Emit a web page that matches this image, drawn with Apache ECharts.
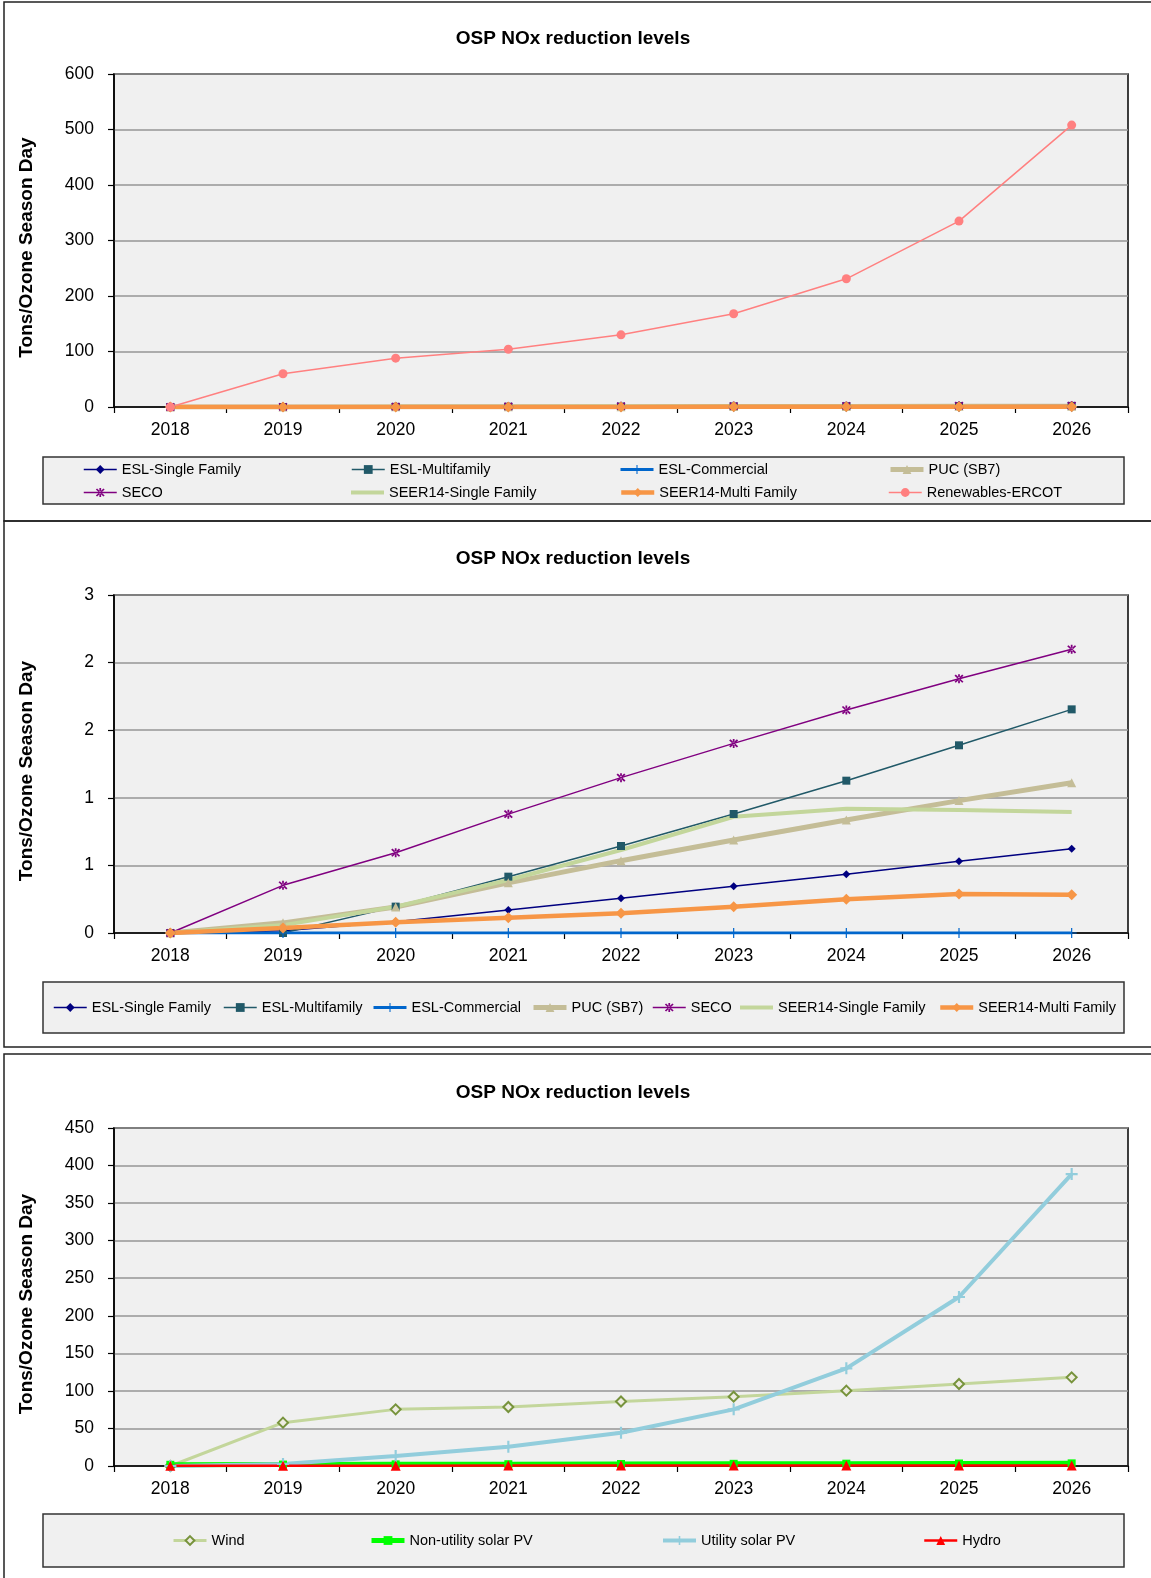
<!DOCTYPE html>
<html><head><meta charset="utf-8">
<script src="https://cdn.jsdelivr.net/npm/echarts@6/dist/echarts.min.js"></script>
<style>html,body{margin:0;padding:0;background:#fff}#c{width:1151px;height:1578px}</style>
</head><body><div id="c"></div>
<script>
// ---------------- data ----------------
const years = ['2018','2019','2020','2021','2022','2023','2024','2025','2026'];
const eslSingleFamily    = [0, 0.02, 0.10, 0.205, 0.308, 0.414, 0.521, 0.636, 0.748];
const eslMultifamily     = [0, 0.0, 0.234, 0.50, 0.772, 1.056, 1.352, 1.666, 1.985];
const eslCommercial      = [0, 0, 0, 0, 0, 0, 0, 0, 0];
const pucSB7             = [0, 0.09, 0.23, 0.445, 0.642, 0.825, 1.003, 1.175, 1.334];
const seco               = [0, 0.423, 0.713, 1.055, 1.379, 1.683, 1.979, 2.257, 2.518];
const seer14SingleFamily = [0, 0.07, 0.234, 0.47, 0.737, 1.032, 1.103, 1.092, 1.074];
const seer14MultiFamily  = [0, 0.044, 0.095, 0.135, 0.175, 0.234, 0.299, 0.346, 0.340];
const renewablesErcot    = [0, 60, 88, 104, 130, 168, 231, 335, 508];
const wind               = [0, 57.7, 75.4, 78.6, 85.9, 92.3, 100.3, 109.2, 118];
const nonUtilitySolarPV  = [1.6, 1.9, 2.2, 2.4, 2.7, 2.9, 3.1, 3.3, 3.5];
const utilitySolarPV     = [0, 2.8, 13.3, 25.7, 44.3, 75.4, 130, 225, 388.6];
const hydro              = [0.4, 0.4, 0.4, 0.5, 0.5, 0.5, 0.5, 0.5, 0.5];
const chartTitle = 'OSP NOx reduction levels';
const yAxisTitle = 'Tons/Ozone Season Day';
const panel2TickLabels = ['0', '1', '1', '2', '2', '3'];

// ---------------- styles ----------------
const FONT = '"Liberation Sans", Arial, sans-serif';
const PLUS_THIN = 'path://M-0.6,-5 L0.6,-5 L0.6,-0.6 L5,-0.6 L5,0.6 L0.6,0.6 L0.6,5 L-0.6,5 L-0.6,0.6 L-5,0.6 L-5,-0.6 L-0.6,-0.6 Z';
const PLUS_THICK = 'path://M-0.9,-5 L0.9,-5 L0.9,-0.9 L5,-0.9 L5,0.9 L0.9,0.9 L0.9,5 L-0.9,5 L-0.9,0.9 L-5,0.9 L-5,-0.9 L-0.9,-0.9 Z';
const ASTER = 'path://M-0.9,-5 L0.9,-5 L0.9,5 L-0.9,5 Z M-4.6,-3.3 L3.3,4.6 L4.6,3.3 L-3.3,-4.6 Z M-3.3,4.6 L4.6,-3.3 L3.3,-4.6 L-4.6,3.3 Z';
const STY = {
  'ESL-Single Family':    {color:'#000080', width:1.5, symbol:'diamond', size:8},
  'ESL-Multifamily':      {color:'#215968', width:1.5, symbol:'rect', size:8},
  'ESL-Commercial':       {color:'#0066CC', width:3, symbol:PLUS_THIN, size:10},
  'PUC (SB7)':            {color:'#C4BD97', width:5, symbol:'triangle', size:9},
  'SECO':                 {color:'#800080', width:1.5, symbol:ASTER, size:9},
  'SEER14-Single Family': {color:'#C3D69B', width:4, symbol:'none', size:0},
  'SEER14-Multi Family':  {color:'#F79646', width:4.5, symbol:'diamond', size:11},
  'Renewables-ERCOT':     {color:'#FF8080', width:1.5, symbol:'circle', size:9},
  'Wind':                 {color:'#C3D69B', width:3, symbol:'diamond', size:10, fill:'#EEECE1', border:'#77933C', bw:2},
  'Non-utility solar PV': {color:'#00FF00', width:5, symbol:'rect', size:8},
  'Utility solar PV':     {color:'#92CDDC', width:4, symbol:PLUS_THICK, size:12},
  'Hydro':                {color:'#FF0000', width:2.5, symbol:'triangle', size:10}
};

function mkSeries(name, data, idx) {
  const s = STY[name];
  const itemStyle = {color: s.fill || s.color};
  if (s.border) { itemStyle.borderColor = s.border; itemStyle.borderWidth = s.bw; }
  return {
    name, type: 'line', data, xAxisIndex: idx, yAxisIndex: idx,
    symbol: s.symbol, symbolSize: s.size, showSymbol: s.symbol !== 'none', showAllSymbol: true,
    lineStyle: {color: s.color, width: s.width}, itemStyle,
    emphasis: {disabled: true}, animation: false
  };
}

const panel1Series = [
  ['ESL-Single Family', eslSingleFamily], ['ESL-Multifamily', eslMultifamily],
  ['ESL-Commercial', eslCommercial], ['PUC (SB7)', pucSB7], ['SECO', seco],
  ['SEER14-Single Family', seer14SingleFamily], ['SEER14-Multi Family', seer14MultiFamily],
  ['Renewables-ERCOT', renewablesErcot]
];
const panel2Series = panel1Series.slice(0, 7);
const panel3Series = [
  ['Wind', wind], ['Non-utility solar PV', nonUtilitySolarPV],
  ['Utility solar PV', utilitySolarPV], ['Hydro', hydro]
];

const series = [];
panel1Series.forEach(([n, d]) => series.push(mkSeries(n, d, 0)));
panel2Series.forEach(([n, d]) => series.push(mkSeries(n, d, 1)));
panel3Series.forEach(([n, d]) => series.push(mkSeries(n, d, 2)));

// ---------------- layout ----------------
const grids = [
  {left:114, top:74, width:1014, height:333},
  {left:114, top:595, width:1014, height:338},
  {left:114, top:1128, width:1014, height:338}
];
const yRanges = [[0, 600, 100], [0, 3, 0.6], [0, 450, 50]];

const xAxes = grids.map((g, i) => ({
  type: 'category', gridIndex: i, data: years, boundaryGap: true,
  axisLine: {show: true, lineStyle: {color: '#000', width: 1.5}},
  axisTick: {show: true, alignWithLabel: false, length: 6, lineStyle: {color: '#000', width: 1.2}},
  axisLabel: {color: '#000', fontSize: 17.5, fontFamily: FONT, margin: 14, interval: 0},
  splitLine: {show: false}
}));
const yAxes = grids.map((g, i) => ({
  type: 'value', gridIndex: i, min: yRanges[i][0], max: yRanges[i][1], interval: yRanges[i][2],
  name: yAxisTitle, nameLocation: 'middle', nameRotate: 90, nameGap: 78,
  nameTextStyle: {fontSize: 19, fontWeight: 'bold', color: '#000', fontFamily: FONT, padding: [0, 14, 0, 0]},
  axisLine: {show: true, lineStyle: {color: '#000', width: 1.5}},
  axisTick: {show: true, length: 6, lineStyle: {color: '#000', width: 1.2}},
  axisLabel: {color: '#000', fontSize: 17.5, fontFamily: FONT, margin: 20,
    formatter: i === 1 ? ((v, idx) => panel2TickLabels[idx]) : undefined},
  splitLine: {show: true, lineStyle: {color: '#969696', width: 1.5}}
}));

function mkLegend(name, left, cy) {
  const s = STY[name];
  const noSym = s.symbol === 'none';
  return {
    data: [noSym ? {name, icon: 'rect'} : name],
    left, top: cy - 7, padding: 0, itemWidth: 33, itemHeight: noSym ? 4 : 11,
    lineStyle: {width: Math.min(s.width, 5)},
    textStyle: {fontSize: 14.5, color: '#000', fontFamily: FONT}, selectedMode: false
  };
}
const legends = [];
// panel 1: two rows, four columns
const p1Cols = [83, 351, 619, 888];
const p1Rows = [469, 492];
panel1Series.forEach(([n], k) => legends.push(mkLegend(n, p1Cols[k % 4], p1Rows[Math.floor(k / 4)])));
// panel 2: one row
const p2Left = [53, 223, 372, 531, 652, 740, 938];
panel2Series.forEach(([n], k) => legends.push(mkLegend(n, p2Left[k], 1007)));
// panel 3: one row
const p3Left = [172, 369, 661, 923];
panel3Series.forEach(([n], k) => legends.push(mkLegend(n, p3Left[k], 1540)));

const titles = [29, 549, 1083].map(t => ({
  text: chartTitle, left: 573, top: t, padding: 0, textAlign: 'center',
  textStyle: {fontSize: 19, fontWeight: 'bold', color: '#000', fontFamily: FONT}
}));

const frame = {stroke: '#222', lineWidth: 1.5, fill: 'none'};
const legBox = {stroke: '#333', lineWidth: 1.5, fill: '#f0f0f0'};
const graphics = [
  {type: 'rect', shape: {x: 4, y: 2, width: 1170, height: 519}, style: frame, silent: true, z: -10},
  {type: 'rect', shape: {x: 4, y: 521, width: 1170, height: 526}, style: frame, silent: true, z: -10},
  {type: 'rect', shape: {x: 4, y: 1054, width: 1170, height: 600}, style: frame, silent: true, z: -10},
  {type: 'rect', shape: {x: 43, y: 457, width: 1081, height: 47}, style: legBox, silent: true, z: -10},
  {type: 'rect', shape: {x: 43, y: 982, width: 1081, height: 51}, style: legBox, silent: true, z: -10},
  {type: 'rect', shape: {x: 43, y: 1514, width: 1081, height: 53}, style: legBox, silent: true, z: -10}
];

const chart = echarts.init(document.getElementById('c'), null, {renderer: 'canvas'});
chart.setOption({
  animation: false,
  backgroundColor: '#fff',
  title: titles,
  legend: legends,
  grid: grids.map(g => Object.assign({show: true, backgroundColor: '#f0f0f0', borderColor: '#000', borderWidth: 1.5, containLabel: false, outerBoundsMode: 'none'}, g)),
  xAxis: xAxes,
  yAxis: yAxes,
  graphic: graphics,
  series
});
</script></body></html>
